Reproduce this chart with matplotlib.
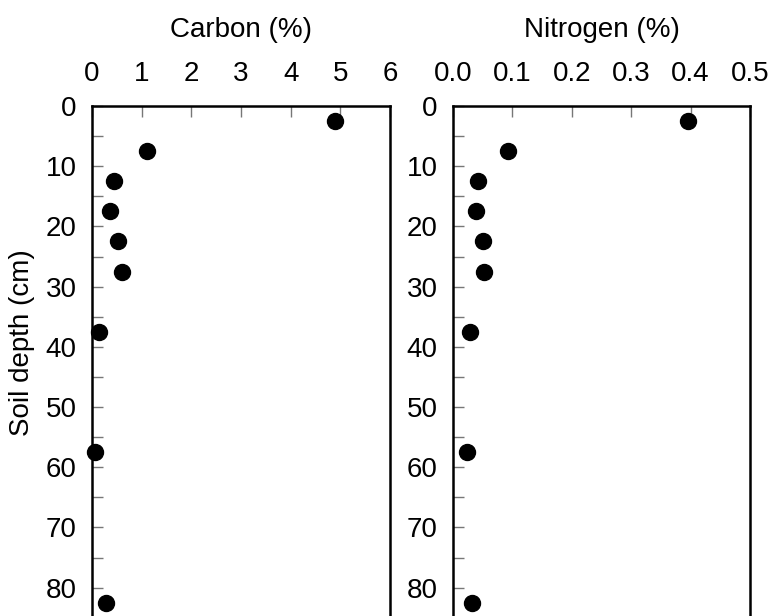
import numpy as np
import matplotlib.pyplot as plt
from matplotlib.ticker import MultipleLocator

# depth (cm) of sample layers
depth = [2.5, 7.5, 12.5, 17.5, 22.5, 27.5, 37.5, 57.5, 82.5]
carbon = [4.9, 1.1, 0.44, 0.37, 0.52, 0.6, 0.14, 0.07, 0.28]
nitrogen = [0.396, 0.093, 0.042, 0.039, 0.05, 0.052, 0.029, 0.024, 0.032]

plt.rcParams['font.family'] = ['Liberation Sans', 'DejaVu Sans']

fig = plt.figure(figsize=(7.75, 6.16), dpi=100)
W, H = 775, 616
ax1 = fig.add_axes([92 / W, 0, 298 / W, (616 - 106) / H])
ax2 = fig.add_axes([453 / W, 0, 297 / W, (616 - 106) / H])

panels = [
    (ax1, carbon, (0, 6), 1, "Carbon (%)", lambda v, p: "%d" % v),
    (ax2, nitrogen, (0, 0.5), 0.1, "Nitrogen (%)", lambda v, p: "%.1f" % v),
]

for ax, vals, xlim, step, title, fmt in panels:
    ax.plot(vals, depth, 'o', color='black', ms=11.5, clip_on=False)
    ax.set_xlim(*xlim)
    ax.set_ylim(84.7, 0)
    ax.xaxis.set_major_locator(MultipleLocator(step))
    ax.xaxis.set_major_formatter(plt.FuncFormatter(fmt))
    ax.yaxis.set_major_locator(MultipleLocator(10))
    ax.yaxis.set_minor_locator(MultipleLocator(5))
    ax.xaxis.tick_top()
    ax.xaxis.set_label_position('top')
    ax.tick_params(axis='x', which='major', direction='in', length=8, width=1,
                   color='#777777', labelsize=20, pad=13.5)
    ax.tick_params(axis='y', which='both', direction='in', length=8, width=1,
                   color='#777777', labelsize=20, pad=11)
    for s in ['top', 'left', 'right']:
        ax.spines[s].set_linewidth(1.8)
    ax.spines['bottom'].set_visible(False)
    ax.set_xlabel(title, fontsize=20, labelpad=17.5)

ax1.set_ylabel("Soil depth (cm)", fontsize=20)
ax1.yaxis.set_label_coords(-0.191, 0.537)

fig.savefig("out.png", dpi=100)
